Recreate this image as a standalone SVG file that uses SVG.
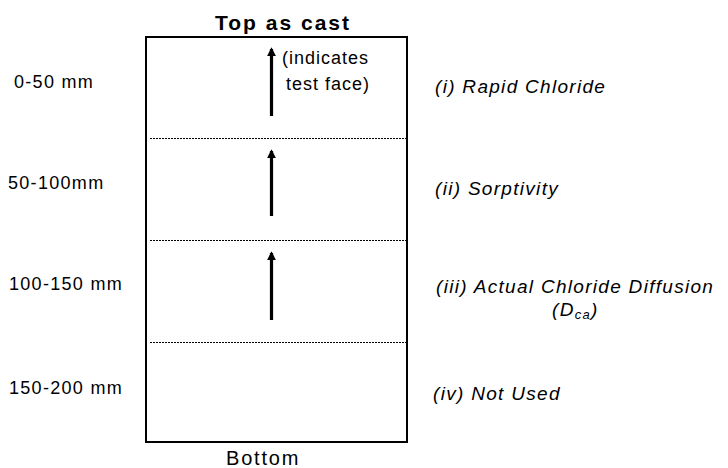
<svg xmlns="http://www.w3.org/2000/svg" width="728" height="468" viewBox="0 0 728 468">
<style>
text{font-family:"Liberation Sans",Arial,sans-serif;fill:#000}
.note{font-size:18px;letter-spacing:1px}
.depth{font-size:18px;letter-spacing:1.3px}
.it{font-size:19px;font-style:italic;letter-spacing:1.3px}
.div{stroke:#000;stroke-width:1.2;stroke-dasharray:2 1}
.arr{stroke:#000;stroke-width:3.2}
</style>
<defs>
<marker id="ah" viewBox="0 0 10 10" refX="8" refY="5" markerWidth="2.8" markerHeight="3" orient="auto" markerUnits="strokeWidth">
<path d="M0,0 L10,5 L0,10 z" fill="#000"/>
</marker>
</defs>
<rect width="728" height="468" fill="#fff"/>
<g id="specimen">
<rect x="146" y="37" width="261" height="405" fill="none" stroke="#000" stroke-width="2"/>
<line class="div" x1="150" y1="138.5" x2="406" y2="138.5"/>
<line class="div" x1="150" y1="240.5" x2="406" y2="240.5"/>
<line class="div" x1="150" y1="342.5" x2="406" y2="342.5"/>
</g>
<g id="connectors">
<line class="arr" x1="271.5" y1="116" x2="271.5" y2="49" marker-end="url(#ah)"/>
<line class="arr" x1="271.5" y1="216" x2="271.5" y2="151" marker-end="url(#ah)"/>
<line class="arr" x1="271.5" y1="320" x2="271.5" y2="253" marker-end="url(#ah)"/>
</g>
<g id="title"><text x="215" y="30" font-size="21" font-weight="bold" letter-spacing="2">Top as cast</text></g>
<g id="note"><text class="note" x="282" y="64">(indicates</text><text class="note" x="286" y="90">test face)</text></g>
<g id="bottom"><text x="226" y="465" font-size="20" letter-spacing="1.8">Bottom</text></g>
<g id="depths">
<text class="depth" x="14" y="88">0-50 mm</text>
<text class="depth" x="8" y="189">50-100mm</text>
<text class="depth" x="9" y="290">100-150 mm</text>
<text class="depth" x="9" y="394">150-200 mm</text>
</g>
<g id="tests">
<text class="it" x="435" y="93">(i) Rapid Chloride</text>
<text class="it" x="435" y="195">(ii) Sorptivity</text>
<text class="it" x="436" y="293">(iii) Actual Chloride Diffusion</text>
<text class="it" x="552" y="316">(D<tspan font-size="13" dy="3">ca</tspan><tspan dy="-3">)</tspan></text>
<text class="it" x="433" y="400" font-size="22" letter-spacing="1.8">(iv) Not Used</text>
</g>
</svg>
